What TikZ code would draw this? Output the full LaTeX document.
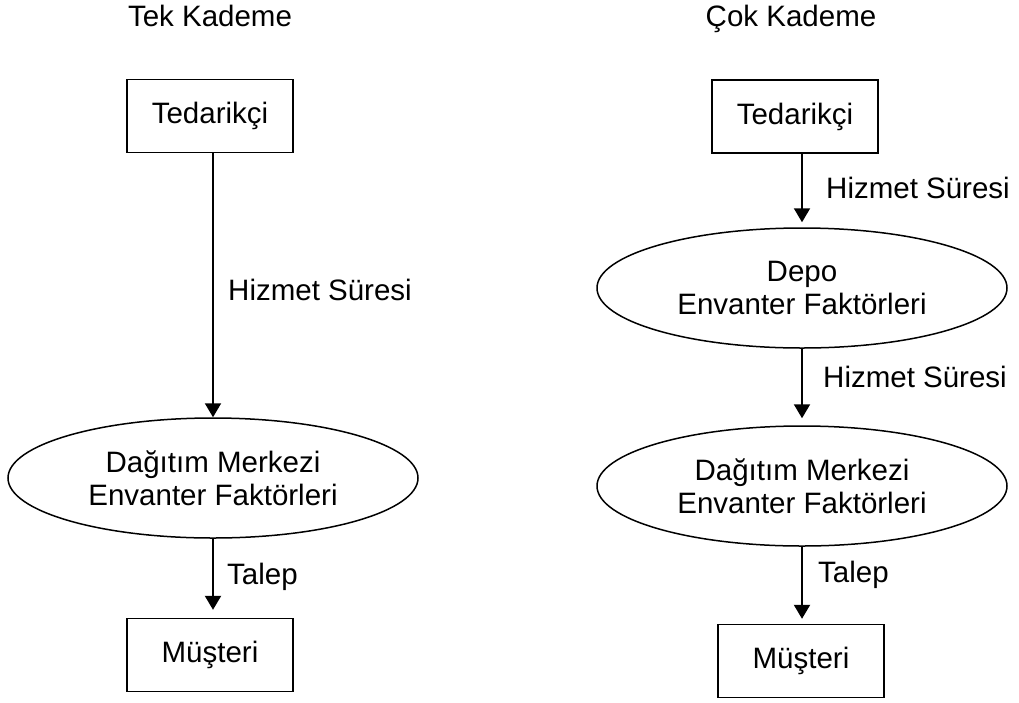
\documentclass[tikz,border=0pt]{standalone}
\usepackage{fontspec}
\setmainfont{Liberation Sans}
\usetikzlibrary{shapes.geometric,arrows.meta}
\begin{document}
\begin{tikzpicture}[x=1pt,y=-1pt,
  every node/.style={font=\fontsize{29.5}{33}\selectfont, inner sep=0pt},
  stepbox/.style={draw, line width=1.4pt, minimum width=166pt, minimum height=73pt},
  stage/.style={draw, ellipse, line width=1.5pt, minimum width=410pt, minimum height=120pt, align=center},
  flow/.style={line width=2pt, -{Triangle[length=14pt,width=16pt]}},
  lbl/.style={anchor=west},
  title/.style={anchor=base}]
  \useasboundingbox (0,0) rectangle (1019,702);

  % single echelon
  \node[title] (h1) at (210,26) {Tek Kademe};
  \node[stepbox] (s1) at (210,116) {Tedarik\c{c}i};
  \node[stage] (d1) at (213,478) {Da\u{g}{\i}t{\i}m Merkezi\\Envanter Fakt\"orleri};
  \node[stepbox] (c1) at (210,655) {M\"u\c{s}teri};
  \node[lbl] (l1) at (228,290) {Hizmet S\"uresi};
  \node[lbl] (l2) at (227,577) {Talep};
  \draw[flow] (s1.south -| d1.north) -- (d1.north);
  \draw[flow, shorten >=8pt] (d1.south) -- (d1.south |- c1.north);

  % multi echelon
  \node[title] (h2) at (791,26) {\c{C}ok Kademe};
  \node[stepbox] (s2) at (795,116.5) {Tedarik\c{c}i};
  \node[stage] (w2) at (802,288) {Depo\\Envanter Fakt\"orleri};
  \node[stage] (d2) at (802,486) {Da\u{g}{\i}t{\i}m Merkezi\\Envanter Fakt\"orleri};
  \node[stepbox] (c2) at (801,661) {M\"u\c{s}teri};
  \node[lbl] (l3) at (826,188) {Hizmet S\"uresi};
  \node[lbl] (l4) at (823,377) {Hizmet S\"uresi};
  \node[lbl] (l5) at (818,575) {Talep};
  \draw[flow, shorten >=5pt] (s2.south -| w2.north) -- (w2.north);
  \draw[flow, shorten >=7pt] (w2.south) -- (d2.north);
  \draw[flow, shorten >=5pt] (d2.south) -- (d2.south |- c2.north);
\end{tikzpicture}
\end{document}
